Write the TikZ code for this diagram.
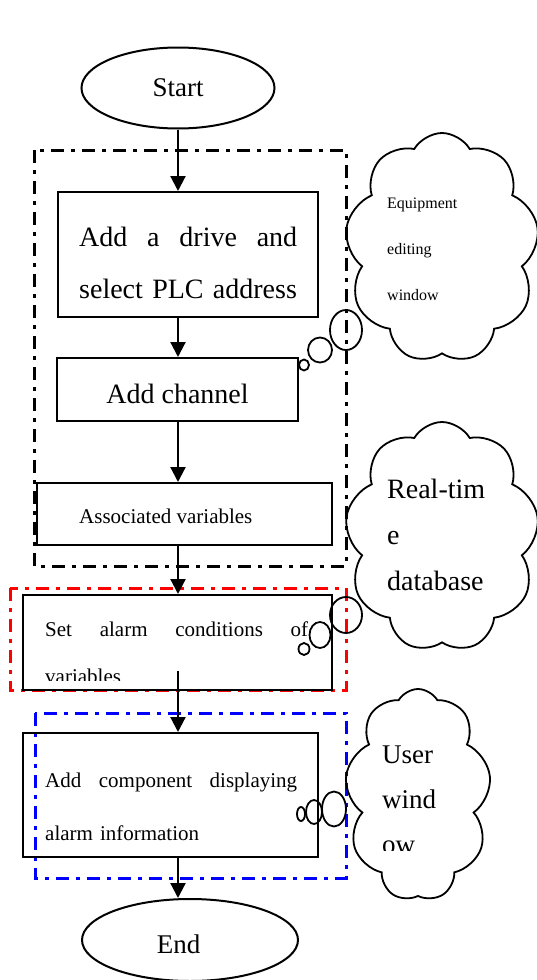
\documentclass[tikz,border=0pt]{standalone}
\usepackage{fontspec}
\setmainfont{Liberation Serif}
\usetikzlibrary{shapes.geometric,shapes.symbols,arrows.meta,calc}

\tikzset{
  box/.style={draw,line width=2pt,inner sep=0pt},
  term/.style={draw,ellipse,line width=2pt,inner sep=0pt},
  frame/.style={line width=3pt,dash pattern=on 13pt off 7pt on 4pt off 7pt},
  flow/.style={line width=2.2pt,-{Triangle[width=15pt,length=15pt]}},
  puff/.style={draw,ellipse,line width=1.8pt,inner sep=0pt},
  thought/.style={draw,cloud,cloud puffs=9,cloud puff arc=120,cloud ignores aspect,line width=1.8pt,inner sep=0pt},
  txt/.style={anchor=base west,inner sep=0pt,align=left},
}

\begin{document}
\begin{tikzpicture}[x=1pt,y=-1pt]
\useasboundingbox (0,0) rectangle (536,980);

% group frames
\draw[frame] (34,150) rectangle (346,566);
\draw[frame,red] (10,588) rectangle (346,690);
\draw[frame,blue] (35,713) rectangle (346,878);

% start / end
\node[term,minimum width=193pt,minimum height=81pt,font=\fontsize{27}{32}\selectfont] (start) at (178,88) {Start};
\node[term,minimum width=216pt,minimum height=82pt] (end) at (190,940) {};
\node[txt,anchor=base,font=\fontsize{27}{32}\selectfont] (endtxt) at (178.5,953) {End};

% steps
\node[box,minimum width=260pt,minimum height=125pt] (b1) at (188,254.5) {};
\node[box,minimum width=241pt,minimum height=63pt] (b2) at (177.5,389.5) {};
\node[box,minimum width=295pt,minimum height=62pt] (b3) at (184.5,514) {};
\node[box,minimum width=309pt,minimum height=95pt] (b4) at (177.5,642.5) {};
\node[box,minimum width=295pt,minimum height=124pt] (b5) at (170.5,795) {};

\node[txt,text width=218pt,font=\fontsize{28}{52}\selectfont] (t1) at (79,246) {Add\hfill a\hfill drive\hfill and\\select PLC address};
\node[txt,anchor=base,font=\fontsize{28}{32}\selectfont] (t2) at (177.5,403) {Add channel};
\node[txt,font=\fontsize{21}{25}\selectfont] (t3) at (79,523) {Associated variables};
\begin{scope}
  \clip (24,596) rectangle (332,680);
  \node[txt,text width=263pt,font=\fontsize{21}{47}\selectfont] (t4) at (45,636) {Set\hfill alarm\hfill conditions\hfill of\\variables};
\end{scope}
\node[txt,text width=252pt,font=\fontsize{21}{53}\selectfont] (t5) at (45,787) {Add\hfill component\hfill displaying\\alarm information};

% arrows
\draw[flow] (start.south) -- (start |- b1.north);
\draw[flow] (start |- b1.south) -- (start |- b2.north);
\draw[flow] (start |- b2.south) -- (start |- b3.north);
\draw[flow] (start |- b3.south) -- (start |- b4.north);
\draw[flow] ($(start |- b4.south)+(0,-20)$) -- (start |- b5.north);
\draw[flow] (start |- b5.south) -- (start |- end.north);

% clouds
\node[thought,minimum width=194pt,minimum height=230pt] (c1) at (442,248) {};
\node[thought,minimum width=194pt,minimum height=230pt] (c2) at (442,537) {};
\node[thought,minimum width=146pt,minimum height=212pt] (c3) at (418,795) {};

\node[txt,text width=140pt,font=\fontsize{16}{46}\selectfont] (ct1) at (387,208) {Equipment\\editing\\window};
\node[txt,text width=140pt,font=\fontsize{28}{46}\selectfont] (ct2) at (387,498) {Real-tim\\e\\database};
\begin{scope}
  \clip (360,700) rectangle (480,850);
  \node[txt,text width=100pt,font=\fontsize{27}{45}\selectfont] (ct3) at (382,763) {User\\wind\\ow};
\end{scope}

% bubbles
\node[puff,minimum width=32pt,minimum height=40pt] (p11) at (346,330) {};
\node[puff,minimum width=24pt,minimum height=25pt] (p12) at (320,350) {};
\node[puff,minimum width=10pt,minimum height=11pt] (p13) at (304,365) {};
\node[puff,minimum width=32pt,minimum height=36pt] (p21) at (346,615) {};
\node[puff,minimum width=21pt,minimum height=26pt] (p22) at (320,635) {};
\node[puff,minimum width=11pt,minimum height=12pt] (p23) at (304,649) {};
\node[puff,minimum width=24pt,minimum height=35pt] (p31) at (334,809) {};
\node[puff,minimum width=16pt,minimum height=24pt] (p32) at (314,812) {};
\node[puff,minimum width=8pt,minimum height=14pt] (p33) at (301,814) {};
\end{tikzpicture}
\end{document}
